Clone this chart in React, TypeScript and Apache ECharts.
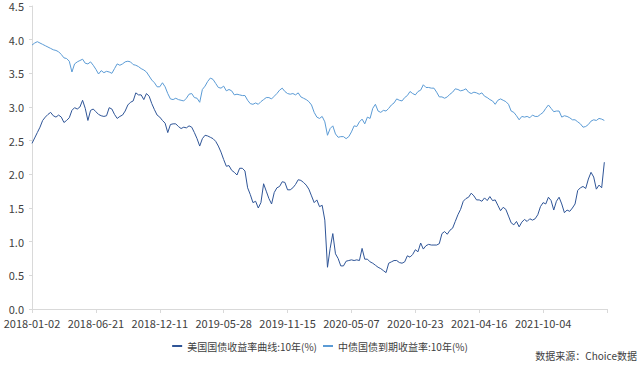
import React, { useEffect, useRef } from "react";
import * as echarts from "echarts";

const tickLabels = [
  "2018-01-02", "2018-06-21", "2018-12-11", "2019-05-28", "2019-11-15",
  "2020-05-07", "2020-10-23", "2021-04-16", "2021-10-04",
];
const TICK_STEP = 24;

const usYield: (number | null)[] = [
  2.46,2.54,2.62,2.70,2.80,2.85,2.89,2.92,2.87,2.85,2.88,2.85,2.77,2.80,2.84,2.95,2.99,2.97,3.00,3.10,2.98,2.80,2.95,2.97,2.93,2.89,2.87,
  2.86,2.87,2.99,2.97,2.89,2.83,2.86,2.88,2.94,3.03,3.07,3.09,3.21,3.18,3.18,3.11,3.20,3.16,3.05,2.96,2.88,2.85,2.80,2.76,2.62,2.74,2.75,
  2.75,2.71,2.68,2.70,2.69,2.72,2.70,2.62,2.53,2.42,2.53,2.58,2.57,2.55,2.53,2.49,2.42,2.33,2.22,2.12,2.13,2.06,2.03,1.99,2.09,2.09,2.05,1.80,
  1.70,1.58,1.60,1.50,1.58,1.86,1.75,1.64,1.56,1.73,1.80,1.82,1.89,1.88,1.77,1.77,1.80,1.85,1.92,1.91,1.88,1.84,1.78,1.68,1.58,1.62,1.52,
  1.54,1.32,0.62,0.90,1.12,0.82,0.75,0.64,0.64,0.71,0.72,0.73,0.72,0.73,0.72,0.90,0.74,0.74,0.70,0.68,0.65,0.62,0.60,0.57,0.54,0.68,0.70,
  0.72,0.72,0.69,0.68,0.70,0.79,0.77,0.81,0.88,0.85,0.98,0.89,0.94,0.96,0.95,0.95,0.95,0.97,1.12,1.15,1.11,1.17,1.20,1.30,1.40,1.48,1.60,1.64,
  1.66,1.72,1.68,1.62,1.62,1.60,1.65,1.61,1.67,1.61,1.62,1.54,1.46,1.51,1.48,1.38,1.28,1.25,1.30,1.22,1.29,1.33,1.30,1.34,1.32,1.34,1.40,
  1.52,1.58,1.56,1.66,1.61,1.47,1.60,1.66,1.56,1.43,1.47,1.45,1.50,1.56,1.76,1.80,1.82,1.79,1.93,2.03,1.96,1.78,1.84,1.80,2.18,
  null,
];

const cnYield: (number | null)[] = [
  3.92,3.95,3.97,3.95,3.93,3.91,3.89,3.87,3.85,3.84,3.82,3.78,3.73,3.72,3.68,3.52,3.64,3.67,3.69,3.71,3.65,3.64,3.67,3.62,3.56,3.49,3.54,
  3.51,3.53,3.52,3.50,3.57,3.64,3.62,3.64,3.67,3.68,3.67,3.63,3.62,3.60,3.57,3.55,3.52,3.46,3.40,3.36,3.30,3.30,3.36,3.30,3.20,3.12,3.11,
  3.13,3.11,3.10,3.09,3.13,3.19,3.20,3.14,3.13,3.07,3.26,3.31,3.38,3.43,3.41,3.35,3.29,3.28,3.31,3.24,3.26,3.24,3.18,3.19,3.18,3.17,3.17,3.10,
  3.05,3.04,3.06,3.04,3.08,3.11,3.14,3.14,3.12,3.16,3.20,3.25,3.28,3.23,3.20,3.19,3.20,3.18,3.21,3.15,3.13,3.11,3.08,3.03,2.92,2.85,2.83,
  2.86,2.78,2.58,2.68,2.72,2.60,2.55,2.56,2.56,2.53,2.56,2.63,2.72,2.71,2.78,2.82,2.75,2.85,2.83,2.98,3.04,2.94,2.92,2.95,2.94,2.98,3.03,
  3.06,3.12,3.10,3.09,3.14,3.17,3.23,3.20,3.18,3.23,3.25,3.33,3.29,3.29,3.28,3.28,3.22,3.15,3.15,3.13,3.15,3.19,3.22,3.27,3.26,3.24,3.25,3.27,
  3.22,3.20,3.22,3.21,3.19,3.21,3.16,3.14,3.11,3.09,3.04,3.10,3.12,3.10,3.08,3.04,2.94,2.92,2.87,2.81,2.86,2.85,2.86,2.84,2.88,2.86,2.86,
  2.89,2.92,2.98,3.03,2.98,2.93,2.94,2.94,2.85,2.87,2.86,2.84,2.81,2.81,2.78,2.75,2.70,2.71,2.74,2.79,2.81,2.80,2.83,2.82,2.80,
  null,
];

const seriesNames = ["美国国债收益率曲线:10年(%)", "中债国债到期收益率:10年(%)"];
const sourceText = "数据来源：Choice数据";

const categories = usYield.map((_, i) => String(i));

export default function App() {
  const ref = useRef<HTMLDivElement>(null);
  useEffect(() => {
    if (!ref.current) return;
    const chart = echarts.init(ref.current, null, { renderer: "svg" });
    const font = "'Noto Sans CJK SC', 'Noto Sans', sans-serif";
    chart.setOption({
      animation: false,
      textStyle: { fontFamily: font },
      grid: { left: 32, right: 33, top: 6, bottom: 56, containLabel: false },
      legend: {
        data: seriesNames,
        left: "center",
        top: 336,
        icon: "rect",
        itemWidth: 10,
        itemHeight: 2,
        itemGap: 6,
        textStyle: { fontSize: 10, color: "#404040", fontFamily: font },
      },
      xAxis: {
        type: "category",
        data: categories,
        boundaryGap: false,
        axisLine: { lineStyle: { color: "#d9d9d9" } },
        axisTick: { show: true, interval: TICK_STEP - 1, length: 4, lineStyle: { color: "#d9d9d9" } },
        axisLabel: {
          interval: TICK_STEP - 1,
          fontSize: 11,
          color: "#404040",
          margin: 8,
          fontFamily: font,
          formatter: (_v: string, idx: number) =>
            idx % TICK_STEP === 0 && tickLabels[idx / TICK_STEP] ? tickLabels[idx / TICK_STEP] : "",
        },
        splitLine: { show: false },
      },
      yAxis: {
        type: "value",
        min: 0,
        max: 4.5,
        interval: 0.5,
        axisLine: { show: true, lineStyle: { color: "#d9d9d9" } },
        axisTick: { show: true, length: 3, lineStyle: { color: "#d9d9d9" } },
        axisLabel: {
          fontSize: 11,
          color: "#404040",
          margin: 8,
          fontFamily: font,
          formatter: (v: number) => v.toFixed(1),
        },
        splitLine: { show: false },
      },
      series: [
        {
          name: seriesNames[0],
          type: "line",
          data: usYield,
          showSymbol: false,
          symbol: "none",
          lineStyle: { width: 1, color: "#2F5597" },
          itemStyle: { color: "#2F5597" },
        },
        {
          name: seriesNames[1],
          type: "line",
          data: cnYield,
          showSymbol: false,
          symbol: "none",
          lineStyle: { width: 1, color: "#5B9BD5" },
          itemStyle: { color: "#5B9BD5" },
        },
      ],
      graphic: [
        {
          type: "text",
          right: 3,
          top: 350,
          style: { text: sourceText, fontSize: 10, fill: "#404040", fontFamily: font },
        },
      ],
    });
    return () => chart.dispose();
  }, []);
  return <div ref={ref} style={{ width: 640, height: 365, position: "absolute", left: 0, top: 0 }} />;
}
